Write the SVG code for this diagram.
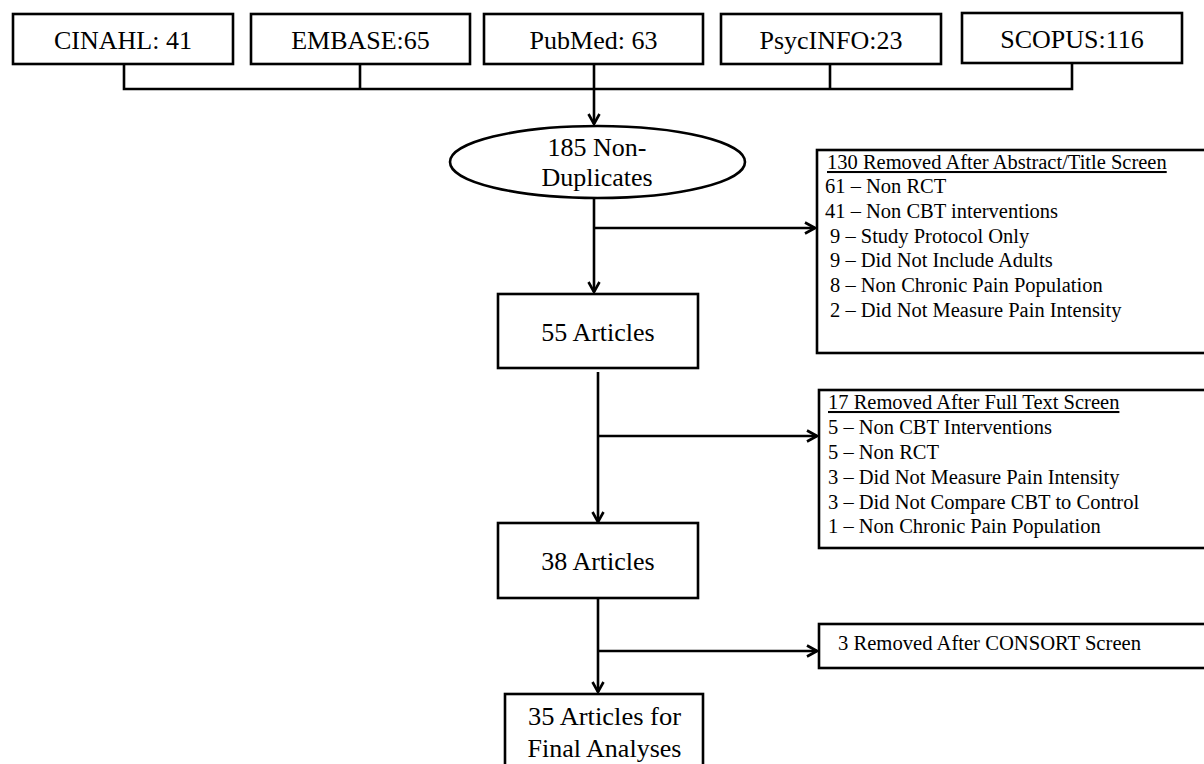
<svg xmlns="http://www.w3.org/2000/svg" width="1204" height="764" viewBox="0 0 1204 764">
  <defs>
    <style>
      .box { fill: #fff; stroke: #000; stroke-width: 2.6; }
      .line { fill: none; stroke: #000; stroke-width: 2.6; }
      .big { font-family: "Liberation Serif", "Times New Roman", serif; font-size: 26px; fill: #000; text-anchor: middle; }
      .small { font-family: "Liberation Serif", "Times New Roman", serif; font-size: 20.5px; fill: #000; }
      .title { text-decoration: underline; }
    </style>
    <marker id="arrow" viewBox="0 0 14 14" refX="12" refY="7" markerWidth="14" markerHeight="14" markerUnits="userSpaceOnUse" orient="auto">
      <path d="M2,1.5 L12,7 L2,12.5" fill="none" stroke="#000" stroke-width="2.6" stroke-linejoin="miter"/>
    </marker>
  </defs>
  <rect width="1204" height="764" fill="#fff"/>

  <!-- connectors -->
  <g id="connectors">
    <!-- database bracket -->
    <path class="line" d="M124,64 V89 H1072 V64"/>
    <path class="line" d="M360,64 V89"/>
    <path class="line" d="M830,64 V89"/>
    <path class="line" d="M594,64 V124" marker-end="url(#arrow)"/>
    <!-- non-duplicates to 55 articles -->
    <path class="line" d="M594,198 V292" marker-end="url(#arrow)"/>
    <path class="line" d="M594,228 H815" marker-end="url(#arrow)"/>
    <!-- 55 articles to 38 articles -->
    <path class="line" d="M598,372 V522" marker-end="url(#arrow)"/>
    <path class="line" d="M598,436 H817" marker-end="url(#arrow)"/>
    <!-- 38 articles to final -->
    <path class="line" d="M598,598 V692" marker-end="url(#arrow)"/>
    <path class="line" d="M598,651 H817" marker-end="url(#arrow)"/>
  </g>

  <!-- database sources -->
  <g id="cinahl">
    <rect class="box" x="13" y="14" width="220" height="50"/>
    <text class="big" x="123" y="49">CINAHL: 41</text>
  </g>
  <g id="embase">
    <rect class="box" x="251" y="14" width="219" height="50"/>
    <text class="big" x="360.5" y="49">EMBASE:65</text>
  </g>
  <g id="pubmed">
    <rect class="box" x="484" y="14" width="219" height="50"/>
    <text class="big" x="593.5" y="49">PubMed: 63</text>
  </g>
  <g id="psycinfo">
    <rect class="box" x="721" y="14" width="220" height="50"/>
    <text class="big" x="831" y="49">PsycINFO:23</text>
  </g>
  <g id="scopus">
    <rect class="box" x="962" y="13" width="220" height="50"/>
    <text class="big" x="1072" y="48">SCOPUS:116</text>
  </g>

  <!-- screening steps -->
  <g id="nonduplicates">
    <ellipse class="box" cx="597.5" cy="162" rx="147.5" ry="36"/>
    <text class="big" x="597" y="156">185 Non-</text>
    <text class="big" x="597" y="186">Duplicates</text>
  </g>
  <g id="articles55">
    <rect class="box" x="498" y="294" width="200" height="74"/>
    <text class="big" x="598" y="341">55 Articles</text>
  </g>
  <g id="articles38">
    <rect class="box" x="498" y="523" width="200" height="75"/>
    <text class="big" x="598" y="570">38 Articles</text>
  </g>
  <g id="final">
    <rect class="box" x="505" y="694" width="198" height="80"/>
    <text class="big" x="604.5" y="725" textLength="153" lengthAdjust="spacingAndGlyphs">35 Articles for</text>
    <text class="big" x="604.5" y="757">Final Analyses</text>
  </g>

  <!-- exclusion boxes -->
  <g id="excluded-abstract" xml:space="preserve">
    <rect class="box" x="817" y="150" width="400" height="203"/>
    <text class="small title" x="827" y="169">130 Removed After Abstract/Title Screen</text>
    <text class="small" x="825" y="193">61 – Non RCT</text>
    <text class="small" x="825" y="218">41 – Non CBT interventions</text>
    <text class="small" x="830" y="243">9  – Study Protocol Only</text>
    <text class="small" x="830" y="267">9 – Did Not Include Adults</text>
    <text class="small" x="830" y="292">8 – Non Chronic Pain Population</text>
    <text class="small" x="830" y="317">2 –  Did Not Measure Pain Intensity</text>
  </g>
  <g id="excluded-fulltext">
    <rect class="box" x="819" y="390" width="400" height="158"/>
    <text class="small title" x="828" y="409">17 Removed After Full Text Screen</text>
    <text class="small" x="828" y="434">5 – Non CBT Interventions</text>
    <text class="small" x="828" y="459">5 – Non RCT</text>
    <text class="small" x="828" y="484">3 – Did Not Measure Pain Intensity</text>
    <text class="small" x="828" y="509">3 – Did Not Compare CBT to Control</text>
    <text class="small" x="828" y="533">1 – Non Chronic Pain Population</text>
  </g>
  <g id="excluded-consort">
    <rect class="box" x="819" y="624" width="400" height="44"/>
    <text class="small" x="838" y="650" textLength="303" lengthAdjust="spacingAndGlyphs">3 Removed After CONSORT Screen</text>
  </g>
</svg>
